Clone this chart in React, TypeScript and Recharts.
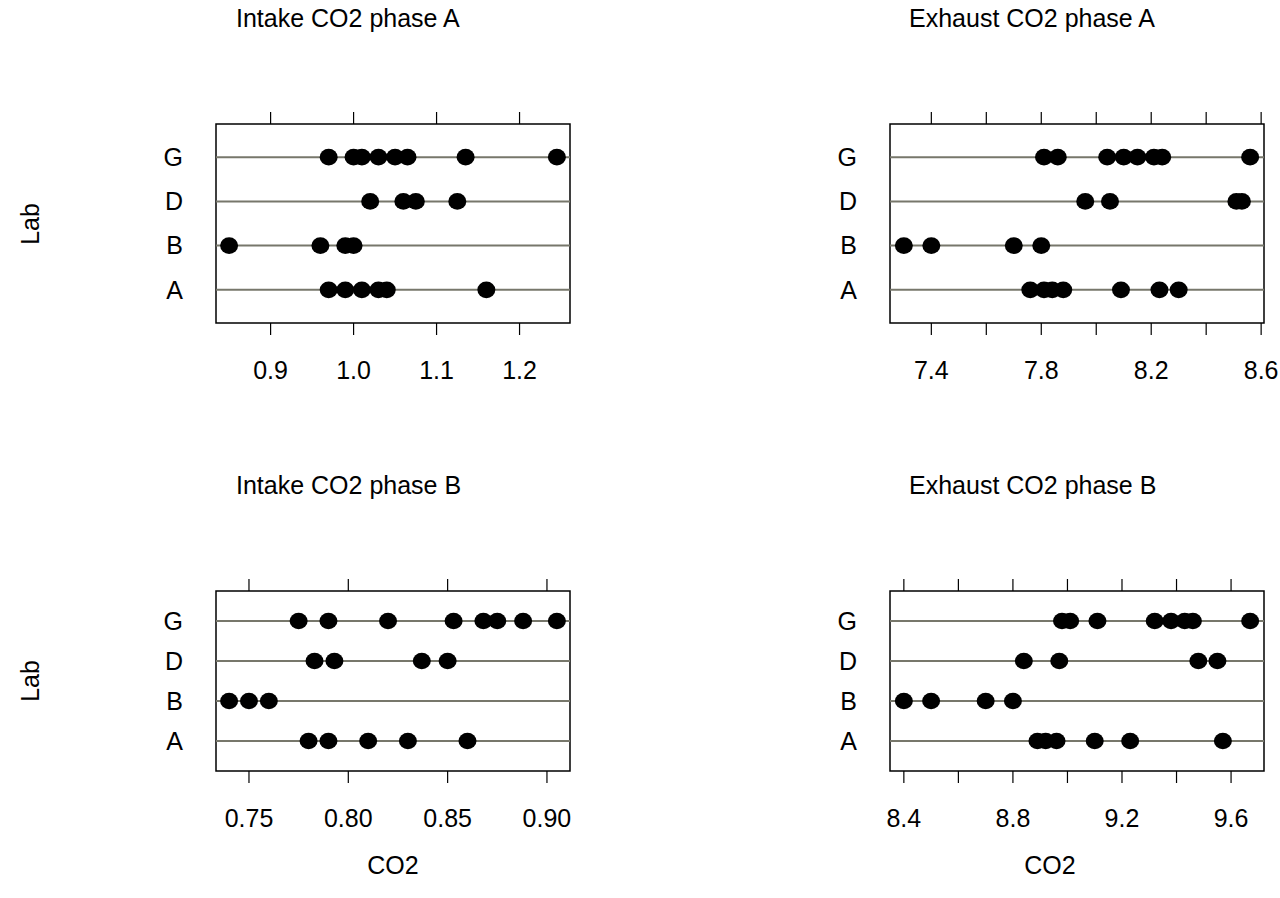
import { ScatterChart, Scatter, XAxis, YAxis, ReferenceLine, ReferenceArea } from 'recharts';

const labs = ['A', 'B', 'D', 'G'];

// CO2 readings per lab, in the same order as labs
const intakeA = [
  [0.97, 0.99, 1.01, 1.03, 1.04, 1.16],
  [0.85, 0.96, 0.99, 1.0],
  [1.02, 1.06, 1.075, 1.125],
  [0.97, 1.0, 1.01, 1.03, 1.05, 1.065, 1.135, 1.245],
];
const exhaustA = [
  [7.76, 7.81, 7.84, 7.88, 8.09, 8.23, 8.3],
  [7.3, 7.4, 7.7, 7.8],
  [7.96, 8.05, 8.51, 8.53],
  [7.81, 7.86, 8.04, 8.1, 8.15, 8.21, 8.24, 8.56],
];
const intakeB = [
  [0.78, 0.79, 0.81, 0.83, 0.86],
  [0.74, 0.75, 0.76],
  [0.783, 0.793, 0.837, 0.85],
  [0.775, 0.79, 0.82, 0.853, 0.868, 0.875, 0.888, 0.905],
];
const exhaustB = [
  [8.89, 8.92, 8.96, 9.1, 9.23, 9.57],
  [8.4, 8.5, 8.7, 8.8],
  [8.84, 8.97, 9.48, 9.55],
  [8.98, 9.01, 9.11, 9.32, 9.38, 9.43, 9.46, 9.67],
];

const intakeATicks = [0.9, 1.0, 1.1, 1.2];
const intakeATickLabels = ['0.9', '1.0', '1.1', '1.2'];
const exhaustATicks = [7.4, 7.6, 7.8, 8.0, 8.2, 8.4, 8.6];
const exhaustATickLabels = ['7.4', '', '7.8', '', '8.2', '', '8.6'];
const intakeBTicks = [0.75, 0.8, 0.85, 0.9];
const intakeBTickLabels = ['0.75', '0.80', '0.85', '0.90'];
const exhaustBTicks = [8.4, 8.6, 8.8, 9.0, 9.2, 9.4, 9.6];
const exhaustBTickLabels = ['8.4', '', '8.8', '', '9.2', '', '9.6'];

const FONT = '"Liberation Sans", Arial, Helvetica, sans-serif';
const FS = 25;

interface PanelProps {
  left: number;
  top: number;
  width: number;
  height: number;
  values: number[][];
  ticks: number[];
  tickLabels: string[];
}

function DotPanel({ left, top, width, height, values, ticks, tickLabels }: PanelProps) {
  const padL = 80, padR = 16, padT = 30, padB = 70;
  const all = values.flat();
  const min = Math.min(...all);
  const max = Math.max(...all);
  const ext = (max - min) * 0.04;
  const domain = [min - ext, max + ext];
  const data = values.flatMap((vals, i) => vals.map(v => ({ x: v, y: i + 1 })));
  const rows = labs.map((_, i) => i + 1);

  const fmt = (v: number) => {
    const i = ticks.findIndex(t => Math.abs(t - v) < 1e-9);
    return i >= 0 ? tickLabels[i] : '';
  };

  return (
    <div style={{ position: 'absolute', left: left - padL, top: top - padT }}>
      <ScatterChart
        width={width + padL + padR}
        height={height + padT + padB}
        margin={{ top: 0, right: padR, bottom: 0, left: 0 }}
      >
        <XAxis
          xAxisId="b"
          type="number"
          dataKey="x"
          domain={domain}
          allowDataOverflow
          ticks={ticks}
          interval={0}
          orientation="bottom"
          height={padB}
          axisLine={false}
          tickSize={12}
          tickMargin={26}
          tickLine={{ stroke: '#000', strokeWidth: 1.2 }}
          tick={{ fill: '#000', fontSize: FS, fontFamily: FONT }}
          tickFormatter={fmt}
        />
        <XAxis
          xAxisId="t"
          type="number"
          dataKey="x"
          domain={domain}
          allowDataOverflow
          ticks={ticks}
          interval={0}
          orientation="top"
          height={padT}
          axisLine={false}
          tickSize={12}
          tickLine={{ stroke: '#000', strokeWidth: 1.2 }}
          tick={() => <g />}
        />
        <YAxis
          yAxisId="l"
          type="number"
          dataKey="y"
          domain={[0.25, 4.75]}
          ticks={rows}
          interval={0}
          width={padL}
          axisLine={false}
          tickLine={false}
          tickSize={0}
          tickMargin={33}
          tick={{ fill: '#000', fontSize: FS, fontFamily: FONT }}
          tickFormatter={(v: number) => labs[v - 1] ?? ''}
        />
        {rows.map(r => (
          <ReferenceLine key={r} xAxisId="b" yAxisId="l" y={r} stroke="#77776b" strokeWidth={2} />
        ))}
        <Scatter
          xAxisId="b"
          yAxisId="l"
          data={data}
          isAnimationActive={false}
          shape={(p: any) => <ellipse cx={p.cx} cy={p.cy} rx={9} ry={8.3} fill="#000" />}
        />
        <ReferenceArea
          xAxisId="b"
          yAxisId="l"
          x1={domain[0]}
          x2={domain[1]}
          y1={0.25}
          y2={4.75}
          fill="none"
          stroke="#000"
          strokeWidth={1.5}
        />
      </ScatterChart>
    </div>
  );
}

export default function App() {
  const textStyle = { fontFamily: FONT, fontSize: FS, fill: '#000' };
  return (
    <div style={{ position: 'absolute', left: 0, top: 0, width: 1280, height: 898, background: '#fff' }}>
      <DotPanel left={216} top={124} width={354} height={199} values={intakeA} ticks={intakeATicks} tickLabels={intakeATickLabels} />
      <DotPanel left={890} top={124} width={374} height={199} values={exhaustA} ticks={exhaustATicks} tickLabels={exhaustATickLabels} />
      <DotPanel left={216} top={591} width={354} height={180} values={intakeB} ticks={intakeBTicks} tickLabels={intakeBTickLabels} />
      <DotPanel left={890} top={591} width={374} height={180} values={exhaustB} ticks={exhaustBTicks} tickLabels={exhaustBTickLabels} />
      <svg width={1280} height={898} style={{ position: 'absolute', left: 0, top: 0, pointerEvents: 'none' }}>
        <text x={236} y={26.5} style={textStyle}>Intake CO2 phase A</text>
        <text x={909} y={26.5} style={textStyle}>Exhaust CO2 phase A</text>
        <text x={236} y={494} style={textStyle}>Intake CO2 phase B</text>
        <text x={909} y={494} style={textStyle}>Exhaust CO2 phase B</text>
        <text x={39} y={224} textAnchor="middle" transform="rotate(-90 39 224)" style={textStyle}>Lab</text>
        <text x={39} y={681} textAnchor="middle" transform="rotate(-90 39 681)" style={textStyle}>Lab</text>
        <text x={393} y={874} textAnchor="middle" style={textStyle}>CO2</text>
        <text x={1050} y={874} textAnchor="middle" style={textStyle}>CO2</text>
      </svg>
    </div>
  );
}
